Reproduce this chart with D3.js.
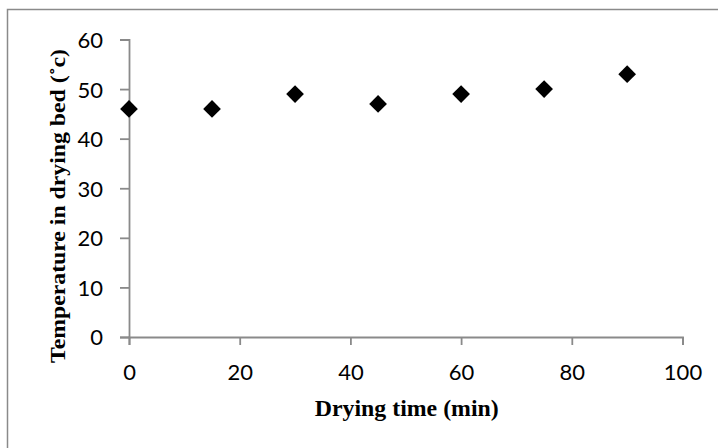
<!DOCTYPE html>
<html>
<head>
<meta charset="utf-8">
<script src="https://cdn.jsdelivr.net/npm/d3@7"></script>
<style>
  body { margin: 0; background: #fff; }
  svg { display: block; }
</style>
</head>
<body>
<div id="container"></div>
<script>
// drying time (min) and bed temperature (c)
var times = [0, 15, 30, 45, 60, 75, 90];
var temps = [46, 46, 49, 47, 49, 50, 53];
var xTicks = [0, 20, 40, 60, 80, 100];
var yTicks = [0, 10, 20, 30, 40, 50, 60];
var xTitle = "Drying time (min)";
var yTitle = "Temperature in drying bed (\u02DAc)";

var W = 718, H = 448;
var axisColor = "#8a8a8a";

var svg = d3.select("#container").append("svg")
  .attr("width", W)
  .attr("height", H);

// outer frame (runs off the right and bottom of the picture)
svg.append("rect")
  .attr("x", 7.5).attr("y", 9.5)
  .attr("width", W + 20).attr("height", H + 20)
  .attr("fill", "none")
  .attr("stroke", axisColor)
  .attr("stroke-width", 1.5);

var x = d3.scaleLinear().domain([0, 100]).range([129, 682.5]);
var y = d3.scaleLinear().domain([0, 60]).range([337, 39.5]);

var xAxis = svg.append("g")
  .attr("transform", "translate(0," + y(0) + ")")
  .call(d3.axisBottom(x).tickValues(xTicks).tickSize(8).tickSizeOuter(8).tickPadding(19));

var yAxis = svg.append("g")
  .attr("transform", "translate(" + x(0) + ",0)")
  .call(d3.axisLeft(y).tickValues(yTicks).tickSize(9).tickSizeOuter(9).tickPadding(17));

[xAxis, yAxis].forEach(function(g) {
  g.attr("font-family", "Lato, 'Open Sans', sans-serif").attr("font-size", 22);
  g.selectAll("path, line")
    .attr("stroke", axisColor)
    .attr("stroke-width", 1.8);
  g.selectAll("text").attr("fill", "#000");
});
yAxis.selectAll("text").attr("dy", "0.36em");
xAxis.selectAll("text").attr("dy", "0.71em");

// diamond markers
var diamond = d3.symbol().type(d3.symbolDiamond2).size(200);
svg.selectAll("path.pt")
  .data(times)
  .enter()
  .append("path")
    .attr("class", "pt")
    .attr("d", diamond)
    .attr("transform", function(d, i) {
      return "translate(" + x(d) + "," + y(temps[i]) + ")";
    })
    .attr("fill", "#000");

// axis titles
svg.append("text")
  .attr("x", (x(0) + x(100)) / 2 + 1)
  .attr("y", 416)
  .attr("text-anchor", "middle")
  .attr("font-family", "'Liberation Serif', 'Times New Roman', serif")
  .attr("font-weight", "bold")
  .attr("font-size", 23)
  .attr("textLength", 184)
  .attr("lengthAdjust", "spacingAndGlyphs")
  .text(xTitle);

svg.append("text")
  .attr("transform", "translate(65,206) rotate(-90)")
  .attr("text-anchor", "middle")
  .attr("font-family", "'Liberation Serif', 'Times New Roman', serif")
  .attr("font-weight", "bold")
  .attr("font-size", 22)
  .attr("textLength", 314)
  .attr("lengthAdjust", "spacingAndGlyphs")
  .text(yTitle);
</script>
</body>
</html>
